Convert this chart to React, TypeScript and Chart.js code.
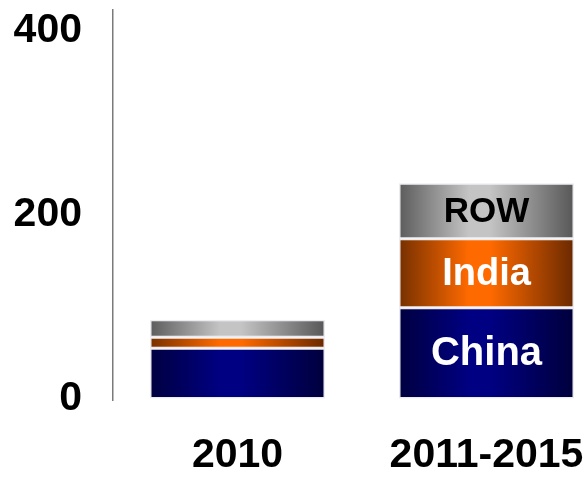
import React, { useEffect, useRef } from "react";
import { Chart, registerables } from "chart.js";

Chart.register(...registerables);

// Capacity by region (stacked)
const categories = ["2010", "2011-2015"];
const seriesNames = ["China", "India", "ROW"];
const china = [55, 99];
const india = [12, 75];
const row = [19, 60];
const yTicks = [0, 200, 400];
// Segment captions are written inside the second column only
const captionIndex = 1;

const FONT = '"Liberation Sans", Arial, Helvetica, sans-serif';
const BAR_FRACTION = 0.703;

// edge / centre / edge colours of the horizontal sheen on each segment
const sheens: Record<string, [string, string, string]> = {
  China: ["#000040", "#000082", "#00003c"],
  India: ["#763000", "#ff6a00", "#6a2900"],
  ROW: ["#5c5c5c", "#c4c4c4", "#575757"],
};
const captionColors: Record<string, string> = {
  China: "#ffffff",
  India: "#ffffff",
  ROW: "#000000",
};
const captionSizes: Record<string, number> = {
  China: 40,
  India: 38,
  ROW: 35,
};

function sheen(name: string) {
  const [edgeL, mid, edgeR] = sheens[name];
  return (ctx: any) => {
    const chart = ctx.chart;
    const xs = chart.scales?.x;
    if (!chart.chartArea || !xs || ctx.dataIndex === undefined) return mid;
    const cx = xs.getPixelForValue(ctx.dataIndex);
    const half = ((xs.width / categories.length) * BAR_FRACTION) / 2;
    if (!isFinite(cx) || !isFinite(half)) return mid;
    const g = chart.ctx.createLinearGradient(cx - half, 0, cx + half, 0);
    g.addColorStop(0, edgeL);
    g.addColorStop(0.4, mid);
    g.addColorStop(0.52, mid);
    g.addColorStop(1, edgeR);
    return g;
  };
}

const captionPlugin = {
  id: "segmentCaptions",
  afterDatasetsDraw(chart: any) {
    const c = chart.ctx;
    chart.data.datasets.forEach((ds: any, i: number) => {
      const el = chart.getDatasetMeta(i).data[captionIndex];
      if (!el) return;
      const name = ds.label as string;
      c.save();
      c.font = `bold ${captionSizes[name]}px ${FONT}`;
      c.fillStyle = captionColors[name];
      c.textAlign = "center";
      c.textBaseline = "middle";
      c.fillText(name, el.x, (el.y + el.base) / 2 + 1);
      c.restore();
    });
  },
};

export default function App() {
  const ref = useRef<HTMLCanvasElement>(null);

  useEffect(() => {
    if (!ref.current) return;
    const values = [china, india, row];
    const chart = new Chart(ref.current, {
      type: "bar",
      data: {
        labels: categories,
        datasets: seriesNames.map((name, i) => ({
          label: name,
          data: values[i],
          backgroundColor: sheen(name),
          borderColor: "#ececf0",
          borderWidth: 1.5,
          borderSkipped: false,
          categoryPercentage: 1,
          barPercentage: BAR_FRACTION,
        })),
      },
      options: {
        responsive: false,
        animation: false,
        layout: { padding: { top: 10, right: 0, bottom: 0, left: 0 } },
        plugins: {
          legend: { display: false },
          tooltip: { enabled: false },
        },
        scales: {
          x: {
            stacked: true,
            grid: { display: false, drawTicks: false },
            border: { display: false },
            ticks: {
              color: "#000000",
              padding: 31,
              font: { family: FONT, size: 41, weight: "bold" },
            },
            afterFit: (s: any) => {
              s.height = 83;
              s.paddingLeft = 0;
              s.paddingRight = 0;
            },
          },
          y: {
            stacked: true,
            min: -1,
            max: 422,
            grid: { drawOnChartArea: false, drawTicks: false },
            border: { display: true, color: "#7a7a7a", width: 1.5 },
            ticks: {
              color: "#000000",
              padding: 31,
              font: { family: FONT, size: 41, weight: "bold" },
            },
            afterBuildTicks: (s: any) => {
              s.ticks = yTicks.map((v) => ({ value: v }));
            },
            afterFit: (s: any) => {
              s.width = 113;
              s.paddingTop = 0;
              s.paddingBottom = 0;
            },
          },
        },
      },
      plugins: [captionPlugin],
    });
    return () => chart.destroy();
  }, []);

  return (
    <div
      style={{
        position: "fixed",
        left: 0,
        top: 0,
        width: 588,
        height: 483,
        overflow: "hidden",
        background: "#ffffff",
      }}
    >
      <canvas ref={ref} width={611} height={483} style={{ display: "block" }} />
    </div>
  );
}
